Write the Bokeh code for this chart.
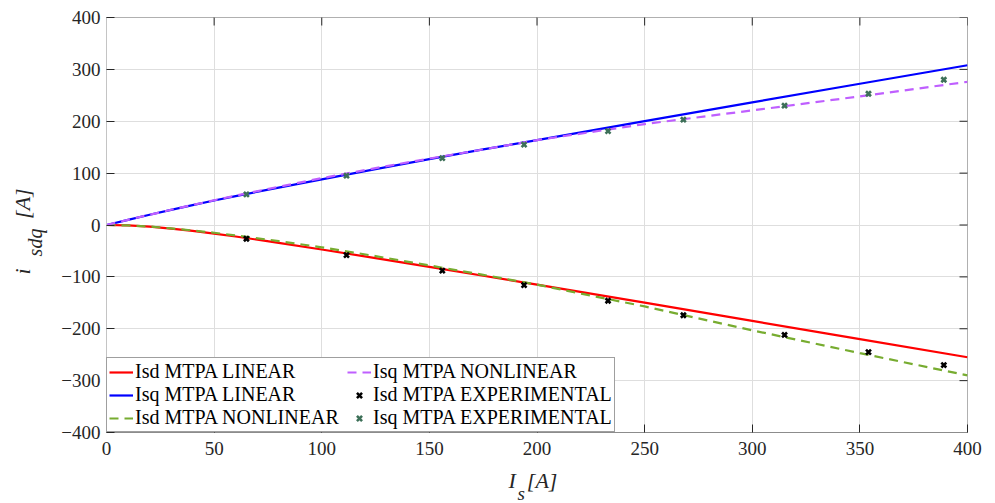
import math
from bokeh.plotting import figure
from bokeh.models import FixedTicker, Title, Legend, LegendItem, Range1d
from bokeh.embed import file_html
from bokeh.resources import INLINE

# ---- data ----
Is = [0, 10, 20, 30, 40, 50, 60, 80, 100, 125, 150, 175, 200, 250, 300, 350, 400]
isd_linear = [0, -0.8, -3.2, -6.9, -11.4, -16.6, -22.2, -34.4, -47.2, -63.8, -80.7, -97.8, -115.1, -149.8, -184.8, -219.9, -255.0]
isq_linear = [0, 10.0, 19.7, 29.2, 38.3, 47.2, 55.8, 72.2, 87.9, 107.8, 127.0, 145.8, 163.6, 200.1, 236.3, 272.3, 308.0]
isd_nonlinear = [0, -0.8, -3.0, -6.5, -10.5, -15.0, -20.0, -31.0, -43.0, -60.0, -78.0, -96.0, -115.0, -157.0, -203.0, -247.0, -290.0]
isq_nonlinear = [0, 10.0, 19.8, 29.3, 38.6, 47.7, 56.6, 73.7, 90.3, 109.6, 128.1, 145.6, 163.6, 194.6, 220.9, 248.0, 276.0]

Is_exp = [65, 111.5, 156, 194, 233, 268, 315, 354, 389]
isd_exp = [-26.5, -58, -88, -116, -146, -174, -212, -245, -270]
isq_exp = [59, 95, 129, 155, 181, 203, 230, 253, 280]

x_ticks = [0, 50, 100, 150, 200, 250, 300, 350, 400]
y_ticks = [-400, -300, -200, -100, 0, 100, 200, 300, 400]
y_tick_labels = ["\u2212400", "\u2212300", "\u2212200", "\u2212100", "0", "100", "200", "300", "400"]

FONT = "Liberation Serif"
TICK_C = "#262626"
NB = "\u00a0"

p = figure(width=995, height=503, output_backend="svg", toolbar_location=None,
           x_range=Range1d(0, 400), y_range=Range1d(-400, 400),
           min_border_left=106, min_border_right=28, min_border_top=17, min_border_bottom=71)
p.outline_line_color = "#b0b0b0"
p.outline_line_width = 1
p.background_fill_color = "white"
p.border_fill_color = "white"

# axes
for ax in (p.xaxis[0], p.yaxis[0]):
    ax.major_tick_in = 8
    ax.major_tick_out = 0
    ax.minor_tick_line_color = None
    ax.major_tick_line_color = TICK_C
    ax.major_label_text_font = FONT
    ax.major_label_text_font_size = "19px"
    ax.major_label_text_color = "#262626"
p.xaxis[0].ticker = FixedTicker(ticks=x_ticks)
p.yaxis[0].ticker = FixedTicker(ticks=y_ticks)
p.yaxis[0].major_label_overrides = {t: s for t, s in zip(y_ticks, y_tick_labels)}
p.xaxis[0].axis_line_color = "#8c8c8c"
p.yaxis[0].axis_line_color = "#c4c4c4"
p.xaxis[0].major_label_standoff = 9
p.yaxis[0].major_label_standoff = 6

# y label subscript part "sdq" = the y axis' own label (shifted down with trailing spaces)
p.yaxis[0].axis_label = "sdq" + NB * 7
p.yaxis[0].axis_label_text_font = FONT
p.yaxis[0].axis_label_text_font_style = "italic"
p.yaxis[0].axis_label_text_font_size = "20px"
p.yaxis[0].axis_label_text_color = "#262626"
p.yaxis[0].axis_label_standoff = 12


# remaining axis-title pieces (italic) as Titles in the side panels
def side_title(txt, side, offset, standoff, size, valign="bottom"):
    t = Title(text=txt, align="left", offset=offset, standoff=standoff,
              vertical_align=valign,
              text_font=FONT, text_font_style="italic", text_font_size=size,
              text_color="#262626")
    p.add_layout(t, side)


# x label: I_s [A]
side_title("I" + NB * 2 + "[A]", "below", 402, 17, "22px")
side_title("s", "below", 411, -37, "19px", valign="top")
# y label: i_sdq [A]
side_title("i" + NB * 9 + "[A]", "left", 158, -26, "22px")

p.xgrid.ticker = FixedTicker(ticks=x_ticks)
p.ygrid.ticker = FixedTicker(ticks=y_ticks)
p.grid.grid_line_color = "#dedede"
p.grid.grid_line_width = 1

# inward tick marks on the top and right edges (half of each dash is clipped by the frame)
p.scatter(x_ticks, [400] * len(x_ticks), marker="dash", size=16, angle=math.pi / 2,
          line_color=TICK_C, line_width=1)
p.scatter([400] * len(y_ticks), y_ticks, marker="dash", size=16, angle=0,
          line_color=TICK_C, line_width=1)

# series
r1 = p.line(Is, isd_linear, line_color="#ff0000", line_width=2.2)
r2 = p.line(Is, isq_linear, line_color="#0000ff", line_width=2.2)
r3 = p.line(Is, isd_nonlinear, line_color="#77ac30", line_width=2.2, line_dash="9 6")
r4 = p.line(Is, isq_nonlinear, line_color="#bf5fff", line_width=2.2, line_dash="9 6")
r5 = p.scatter(Is_exp, isd_exp, marker="x", size=7, line_width=2.6, line_color="black")
r6 = p.scatter(Is_exp, isq_exp, marker="x", size=7, line_width=2.6, line_color="#3d7058")

legend = Legend(items=[
    LegendItem(label="Isd MTPA LINEAR", renderers=[r1]),
    LegendItem(label="Isq MTPA LINEAR", renderers=[r2]),
    LegendItem(label="Isd MTPA NONLINEAR", renderers=[r3]),
    LegendItem(label="Isq MTPA NONLINEAR", renderers=[r4]),
    LegendItem(label="Isd MTPA EXPERIMENTAL", renderers=[r5]),
    LegendItem(label="Isq MTPA EXPERIMENTAL", renderers=[r6]),
], location="bottom_left", nrows=3, orientation="vertical")
legend.margin = 0
legend.padding = 2
legend.spacing = 0
legend.glyph_width = 24
legend.glyph_height = 18
legend.label_height = 18
legend.label_width = 212
legend.label_standoff = 2
legend.label_text_font = FONT
legend.label_text_font_size = "20px"
legend.label_text_color = "black"
legend.border_line_color = "#404040"
legend.border_line_width = 1
legend.background_fill_color = "white"
legend.background_fill_alpha = 1.0
p.add_layout(legend)

open("out.html", "w").write(file_html(p, INLINE))
